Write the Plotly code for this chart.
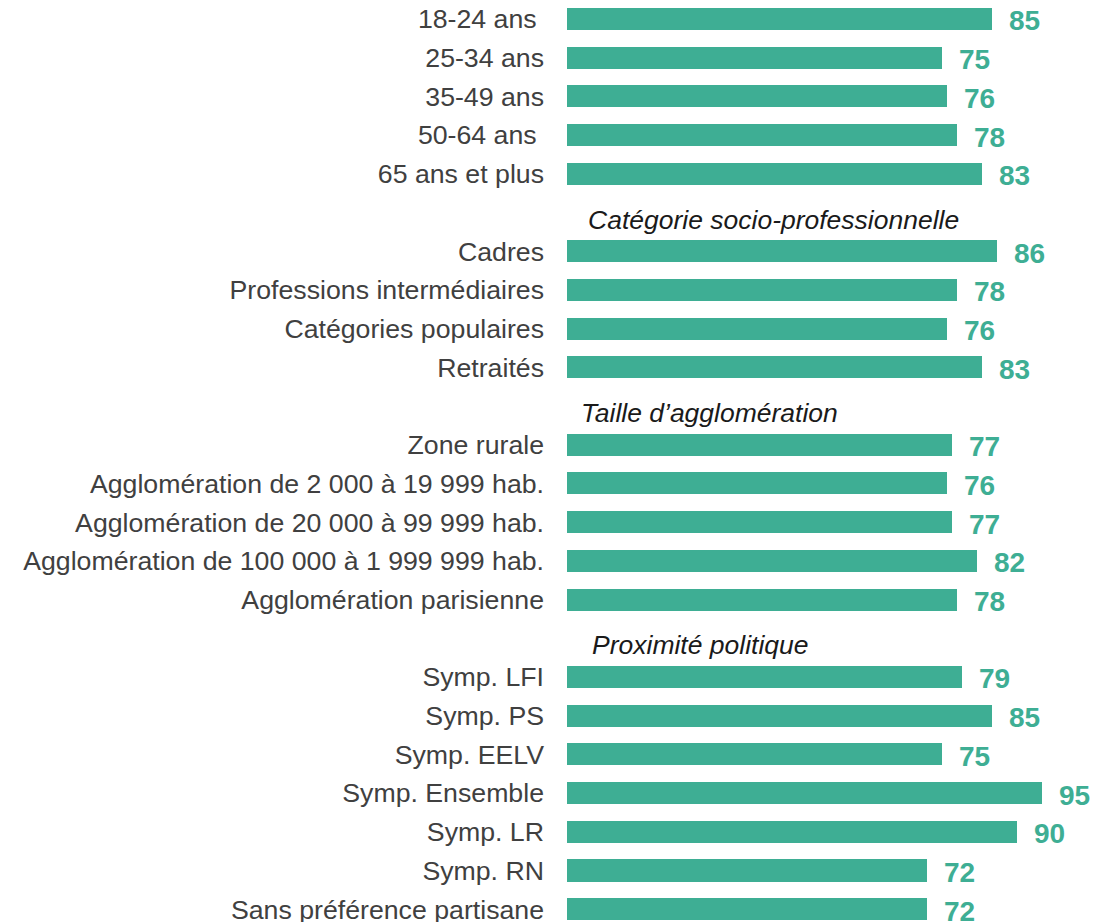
import plotly.graph_objects as go

# ---- data ----
age_labels = ["18-24 ans\u00a0", "25-34 ans", "35-49 ans", "50-64 ans\u00a0", "65 ans et plus"]
age_values = [85, 75, 76, 78, 83]

csp_title = "Catégorie socio-professionnelle"
csp_labels = ["Cadres", "Professions intermédiaires", "Catégories populaires", "Retraités"]
csp_values = [86, 78, 76, 83]

agglo_title = "Taille d\u2019agglomération"
agglo_labels = ["Zone rurale", "Agglomération de 2 000 à 19 999 hab.",
                "Agglomération de 20 000 à 99 999 hab.",
                "Agglomération de 100 000 à 1 999 999 hab.", "Agglomération parisienne"]
agglo_values = [77, 76, 77, 82, 78]

pol_title = "Proximité politique"
pol_labels = ["Symp. LFI", "Symp. PS", "Symp. EELV", "Symp. Ensemble", "Symp. LR",
              "Symp. RN", "Sans préférence partisane"]
pol_values = [79, 85, 75, 95, 90, 72, 72]

groups = [
    (None, age_labels, age_values),
    (csp_title, csp_labels, csp_values),
    (agglo_title, agglo_labels, agglo_values),
    (pol_title, pol_labels, pol_values),
]

# ---- build rows ----
BAR = "#3EAE94"
TEXT = "#404040"
FONT = "Arial, 'Liberation Sans', sans-serif"

rows, labels, values, headers = [], [], [], []
r = 0
for title, labs, vals in groups:
    if title is not None:
        headers.append((title, r))
        r += 1
    for lab, v in zip(labs, vals):
        rows.append(r)
        labels.append(lab)
        values.append(v)
        r += 1

fig = go.Figure()
fig.add_trace(go.Bar(
    y=rows, x=values, orientation="h", width=0.57,
    marker=dict(color=BAR, line=dict(width=0)),
    hoverinfo="skip", showlegend=False,
))

annotations = []
for y, v in zip(rows, values):
    annotations.append(dict(
        x=v, y=y, xref="x", yref="y", text=f"<b>{v}</b>", showarrow=False,
        xanchor="left", yanchor="middle", xshift=15, yshift=-2,
        font=dict(family=FONT, size=28, color=BAR),
    ))

header_shift = {csp_title: 19, agglo_title: 12, pol_title: 23}
for title, y in headers:
    annotations.append(dict(
        x=0, y=y, xref="x", yref="y", text=f"<i>{title}</i>", showarrow=False,
        xanchor="left", yanchor="middle", xshift=header_shift[title], yshift=-7,
        font=dict(family=FONT, size=26.5, color="#1a1a1a"),
    ))

fig.update_layout(
    width=1111, height=914,
    margin=dict(l=559, r=0, t=0, b=0, autoexpand=False),
    paper_bgcolor="white", plot_bgcolor="white",
    annotations=annotations,
    bargap=0,
    xaxis=dict(range=[0, 110.4], visible=False, showgrid=False, zeroline=False,
               fixedrange=True, automargin=False),
    yaxis=dict(
        range=[23.33, -0.284], tickmode="array", tickvals=rows, ticktext=labels,
        showgrid=False, zeroline=False, showline=False, ticks="",
        ticklabelstandoff=22, automargin=False, ticklabeloverflow="allow",
        tickfont=dict(family=FONT, size=26.7, color=TEXT),
    ),
)

fig.write_html("out.html")
